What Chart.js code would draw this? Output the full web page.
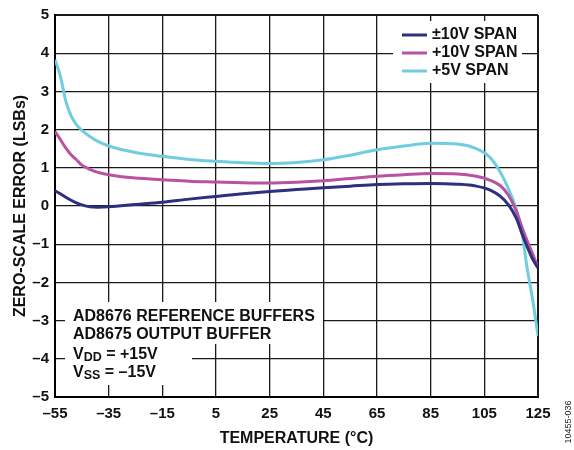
<!DOCTYPE html>
<html>
<head>
<meta charset="utf-8">
<script src="https://cdn.jsdelivr.net/npm/chart.js@4/dist/chart.umd.min.js"></script>
<style>
  body { margin: 0; background: #fff; }
  #wrap { width: 574px; height: 450px; position: relative; }
</style>
</head>
<body>
<div id="wrap"><canvas id="chart" width="574" height="450"></canvas></div>
<script>
// ─── 데이터 ──────────────────────────────────────────────────────────────────
const temps = [-55, -53, -51, -49, -47, -45, -42, -39, -35, -25, -15, -5, 5, 15, 25, 35, 45, 55, 65, 75, 85, 95, 102, 107, 111, 114, 117, 119, 121, 123, 125];

const span10Bipolar = [0.40, 0.32, 0.23, 0.15, 0.08, 0.03, -0.02, -0.03, -0.02, 0.04, 0.10, 0.18, 0.25, 0.32, 0.38, 0.43, 0.48, 0.52, 0.56, 0.58, 0.59, 0.57, 0.52, 0.42, 0.25, 0.03, -0.33, -0.72, -1.07, -1.39, -1.62];
const span10 = [1.95, 1.74, 1.52, 1.34, 1.21, 1.07, 0.96, 0.88, 0.82, 0.73, 0.69, 0.65, 0.63, 0.61, 0.60, 0.62, 0.66, 0.72, 0.78, 0.82, 0.85, 0.84, 0.78, 0.68, 0.53, 0.28, -0.15, -0.55, -0.92, -1.25, -1.62];
const span5 = [3.83, 3.40, 2.75, 2.36, 2.13, 1.98, 1.82, 1.69, 1.57, 1.40, 1.30, 1.22, 1.17, 1.13, 1.11, 1.14, 1.21, 1.33, 1.47, 1.57, 1.64, 1.62, 1.50, 1.28, 0.88, 0.45, -0.10, -0.68, -1.65, -2.45, -3.40];

const seriesLabels = ['±10V SPAN', '+10V SPAN', '+5V SPAN'];
const seriesColors = ['#2e2f7f', '#b9529f', '#70cde0'];

const xTicks = [-55, -35, -15, 5, 25, 45, 65, 85, 105, 125];
const yTicks = [-5, -4, -3, -2, -1, 0, 1, 2, 3, 4, 5];

const noteLines = ['AD8676 REFERENCE BUFFERS', 'AD8675 OUTPUT BUFFER'];
const FONT = "'Liberation Sans', Arial, sans-serif";

// ─── 유틸 ────────────────────────────────────────────────────────────────────
const fmtTick = (v) => (v < 0 ? '–' + Math.abs(v) : String(v));
const toPoints = (vals) => vals.map((v, i) => ({ x: temps[i], y: v }));

function edgeWidth(c, count) {
  return c.index === 0 || c.index === count - 1 ? 2 : 1.3;
}

function drawSub(ctx, base, sub, rest, x, y) {
  ctx.font = 'bold 16px ' + FONT;
  ctx.fillText(base, x, y);
  x += ctx.measureText(base).width;
  ctx.font = 'bold 12.5px ' + FONT;
  ctx.fillText(sub, x, y + 3.5);
  x += ctx.measureText(sub).width;
  ctx.font = 'bold 16px ' + FONT;
  ctx.fillText(rest, x, y);
}

// ─── 범례 + 주석 플러그인 ────────────────────────────────────────────────────
const overlayPlugin = {
  id: 'overlay',
  afterDraw(chart) {
    const ctx = chart.ctx;
    ctx.save();

    // 범례
    ctx.fillStyle = '#fff';
    ctx.fillRect(393, 21, 129, 62);
    ctx.font = 'bold 16px ' + FONT;
    ctx.textBaseline = 'middle';
    chart.data.datasets.forEach((ds, i) => {
      const y = 35 + i * 18;
      ctx.strokeStyle = ds.borderColor;
      ctx.lineWidth = 3;
      ctx.beginPath();
      ctx.moveTo(402, y);
      ctx.lineTo(427, y);
      ctx.stroke();
      ctx.fillStyle = '#111';
      ctx.fillText(ds.label, 432, y);
    });

    // 주석 박스
    ctx.fillStyle = '#fff';
    ctx.fillRect(65, 302, 258, 42);
    ctx.fillRect(65, 343, 127, 42);
    ctx.fillStyle = '#111';
    ctx.font = 'bold 16px ' + FONT;
    ctx.fillText(noteLines[0], 73, 317);
    ctx.fillText(noteLines[1], 73, 335);
    drawSub(ctx, 'V', 'DD', ' = +15V', 73, 354.5);
    drawSub(ctx, 'V', 'SS', ' = –15V', 73, 372.5);

    // 도면 번호
    ctx.translate(569, 422);
    ctx.rotate(-Math.PI / 2);
    ctx.font = '9px ' + FONT;
    ctx.textAlign = 'center';
    ctx.fillStyle = '#222';
    ctx.fillText('10455-036', 0, 0);
    ctx.restore();
  },
};

// ─── 차트 ────────────────────────────────────────────────────────────────────
const datasets = [span10Bipolar, span10, span5].map((vals, i) => ({
  label: seriesLabels[i],
  data: toPoints(vals),
  borderColor: seriesColors[i],
  borderWidth: 3,
  pointRadius: 0,
  fill: false,
  cubicInterpolationMode: 'monotone',
}));

new Chart(document.getElementById('chart'), {
  type: 'line',
  data: { datasets },
  plugins: [overlayPlugin],
  options: {
    responsive: false,
    animation: false,
    layout: { padding: { top: 12, right: 36, left: 0, bottom: 0 } },
    plugins: { legend: { display: false }, tooltip: { enabled: false } },
    scales: {
      x: {
        type: 'linear',
        min: -55,
        max: 125,
        afterBuildTicks: (s) => { s.ticks = xTicks.map((v) => ({ value: v })); },
        afterFit: (s) => { s.height = 53; },
        ticks: {
          color: '#111',
          padding: 8,
          maxRotation: 0,
          autoSkip: false,
          font: { family: FONT, size: 15, weight: 'bold' },
          callback: fmtTick,
        },
        grid: { color: '#1a1a1a', lineWidth: (c) => edgeWidth(c, xTicks.length), drawTicks: false },
        border: { display: true, color: '#000', width: 2 },
        title: {
          display: true,
          text: 'TEMPERATURE (°C)',
          color: '#111',
          padding: { top: 0, bottom: 2 },
          font: { family: FONT, size: 16, weight: 'bold' },
        },
      },
      y: {
        min: -5,
        max: 5,
        afterBuildTicks: (s) => { s.ticks = yTicks.map((v) => ({ value: v })); },
        afterFit: (s) => { s.width = 55; },
        ticks: {
          color: '#111',
          padding: 6,
          font: { family: FONT, size: 15, weight: 'bold' },
          callback: fmtTick,
        },
        grid: { color: '#1a1a1a', lineWidth: (c) => edgeWidth(c, yTicks.length), drawTicks: false },
        border: { display: true, color: '#000', width: 2 },
        title: {
          display: true,
          text: 'ZERO-SCALE ERROR (LSBs)',
          color: '#111',
          padding: { top: 11, bottom: 0 },
          font: { family: FONT, size: 16, weight: 'bold' },
        },
      },
    },
  },
});
</script>
</body>
</html>
